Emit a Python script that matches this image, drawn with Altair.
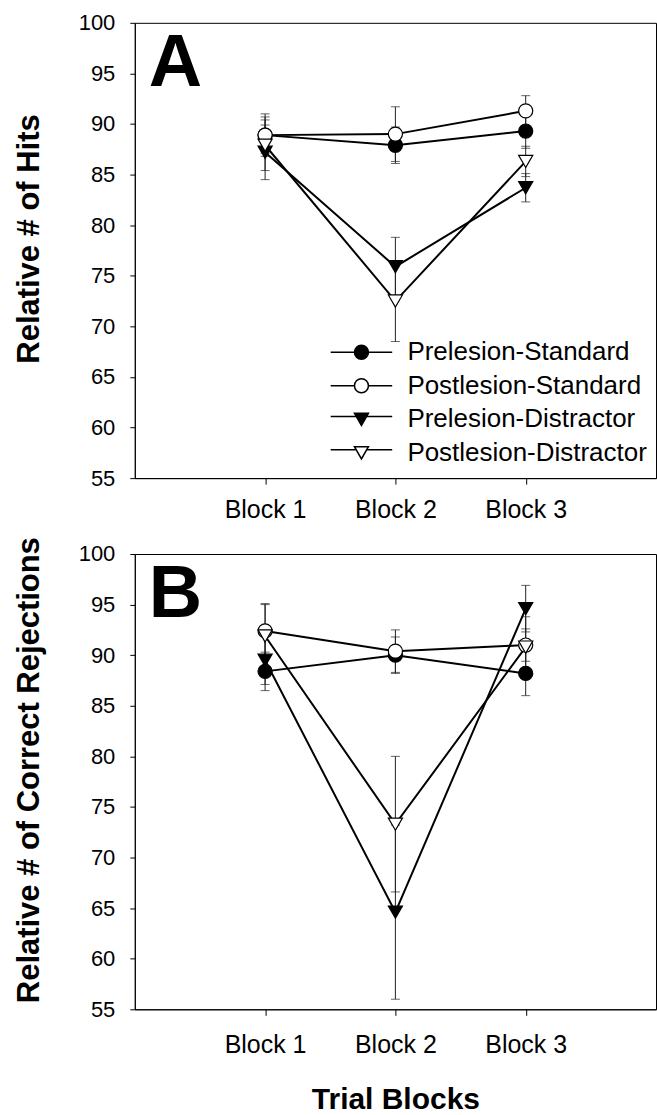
import altair as alt
import pandas as pd

FONT = "Liberation Sans"

blocks = ["Block 1", "Block 2", "Block 3"]
series = ["Prelesion-Standard", "Postlesion-Standard",
          "Prelesion-Distractor", "Postlesion-Distractor"]
fills = ["black", "white", "black", "white"]
shapes = ["circle", "circle", "triangle-down", "triangle-down"]
panel_letters = ["A", "B"]

# Panel A: Relative # of Hits (means and standard errors)
hits_pre_std = [88.9, 87.9, 89.3]
hits_post_std = [88.9, 89.0, 91.3]
hits_pre_dis = [87.2, 75.9, 83.7]
hits_post_dis = [87.9, 72.5, 86.3]
hits_pre_std_se = [1.8, 1.8, 1.7]
hits_post_std_se = [2.1, 2.7, 1.5]
hits_pre_dis_se = [2.7, 2.9, 1.4]
hits_post_dis_se = [2.5, 4.0, 1.5]

# Panel B: Relative # of Correct Rejections
cr_pre_std = [88.4, 90.0, 88.2]
cr_post_std = [92.4, 90.4, 91.0]
cr_pre_dis = [89.5, 64.6, 94.6]
cr_post_dis = [91.9, 73.3, 90.8]
cr_pre_std_se = [1.9, 1.8, 2.2]
cr_post_std_se = [2.7, 2.1, 1.6]
cr_pre_dis_se = [2.4, 8.6, 2.3]
cr_post_dis_se = [3.1, 6.7, 3.0]


def build(means, ses):
    rows = []
    for s, f, shp, m, e in zip(series, fills, shapes, means, ses):
        for b, v, se in zip(blocks, m, e):
            rows.append({"block": b, "series": s, "mean": v,
                         "lo": v - se, "hi": v + se,
                         "fillcol": f, "shape": shp})
    return pd.DataFrame(rows)


df_a = build([hits_pre_std, hits_post_std, hits_pre_dis, hits_post_dis],
             [hits_pre_std_se, hits_post_std_se, hits_pre_dis_se, hits_post_dis_se])
df_b = build([cr_pre_std, cr_post_std, cr_pre_dis, cr_post_dis],
             [cr_pre_std_se, cr_post_std_se, cr_pre_dis_se, cr_post_dis_se])

# legend symbols: a line with the marker in the middle
circle_path = "M-4.4,0L-1,0M1,0L4.4,0M1,0A1,1,0,1,1,-1,0A1,1,0,1,1,1,0Z"
tri_path = "M-4.4,-0.4L-0.75,-0.4M0.75,-0.4L4.4,-0.4M-1,-0.85L1,-0.85L0,0.9Z"
legend_paths = [circle_path, circle_path, tri_path, tri_path]

W, H = 522, 456
yticks = list(range(55, 101, 5))


def panel(df, letter, ytitle, xtitle, label_pad, with_legend):
    xscale = alt.Scale(type="point", padding=1, domain=blocks)
    yscale = alt.Scale(domain=[55, 100], nice=False, zero=False)
    xaxis_kw = dict(labelFontSize=25, labelFont=FONT, labelColor="black",
                    labelAngle=0, tickSize=6, tickColor="black",
                    domainColor="black", labelPadding=label_pad,
                    grid=False)
    if xtitle:
        xaxis = alt.Axis(title=xtitle, titleFontSize=30, titleFont=FONT,
                         titleFontWeight="bold", titleColor="black",
                         titlePadding=27, **xaxis_kw)
    else:
        xaxis = alt.Axis(title=None, **xaxis_kw)
    yaxis = alt.Axis(title=ytitle, values=yticks, labelFontSize=22,
                     labelFont=FONT, labelColor="black", tickSize=5,
                     tickColor="black", domainColor="black",
                     labelPadding=15, grid=False, titleFontSize=31,
                     titleFont=FONT, titleFontWeight="bold",
                     titleColor="black", titleX=-105, titleY=216,
                     titleAngle=270, titleAlign="center",
                     titleBaseline="middle")

    base = alt.Chart(df)
    X = alt.X("block:N", sort=blocks, scale=xscale, axis=xaxis)

    def Y(field):
        return alt.Y(field, type="quantitative", scale=yscale, axis=yaxis)

    bars = base.mark_rule(color="#222222", strokeWidth=1).encode(
        x=X, y=Y("lo"), y2="hi:Q")
    cap_lo = base.mark_tick(color="#222222", size=9, thickness=1).encode(
        x=X, y=Y("lo"))
    cap_hi = base.mark_tick(color="#222222", size=9, thickness=1).encode(
        x=X, y=Y("hi"))
    lines = base.mark_line(color="black", strokeWidth=2).encode(
        x=X, y=Y("mean"), detail="series:N")
    pts = base.mark_point(filled=True, size=200, opacity=1,
                          strokeWidth=1.2).encode(
        x=X, y=Y("mean"),
        fill=alt.Fill("fillcol:N", scale=None),
        shape=alt.Shape("shape:N", scale=None),
        stroke=alt.value("black"))
    letter_df = pd.DataFrame({"letter": [letter]})
    lab = alt.Chart(letter_df).mark_text(
        font=FONT, fontSize=74, fontWeight="bold", align="left",
        baseline="alphabetic", color="black").encode(
        text="letter:N", x=alt.value(14), y=alt.value(63))

    layers = [bars, cap_lo, cap_hi, lines, pts, lab]
    if with_legend:
        leg = alt.Legend(orient="none", legendX=214, legendY=317, title=None,
                         labelFontSize=26, labelFont=FONT, labelColor="black",
                         labelOffset=33, rowPadding=7.5, padding=0,
                         symbolStrokeColor="black", symbolStrokeWidth=1.5,
                         symbolOpacity=1, symbolSize=196, labelLimit=400)
        legend_layer = base.mark_point(filled=True, size=196, opacity=0).encode(
            x=X, y=Y("mean"),
            shape=alt.Shape("series:N", sort=series,
                            scale=alt.Scale(domain=series, range=legend_paths),
                            legend=leg),
            fill=alt.Fill("series:N", sort=series,
                          scale=alt.Scale(domain=series, range=fills),
                          legend=leg),
            stroke=alt.value("black"))
        layers.append(legend_layer)
    return alt.layer(*layers).properties(width=W, height=H)


pa = panel(df_a, panel_letters[0], "Relative # of Hits", None, 13, True)
pb = panel(df_b, panel_letters[1], "Relative # of Correct Rejections",
           "Trial Blocks", 17, False)

chart = alt.vconcat(pa, pb, spacing=13).properties(
    padding={"left": 13, "top": 10, "right": 0, "bottom": 0},
    background="white",
).configure_view(stroke="black", strokeWidth=1)

chart.save("out.html", embed_options={"renderer": "svg", "actions": False})
